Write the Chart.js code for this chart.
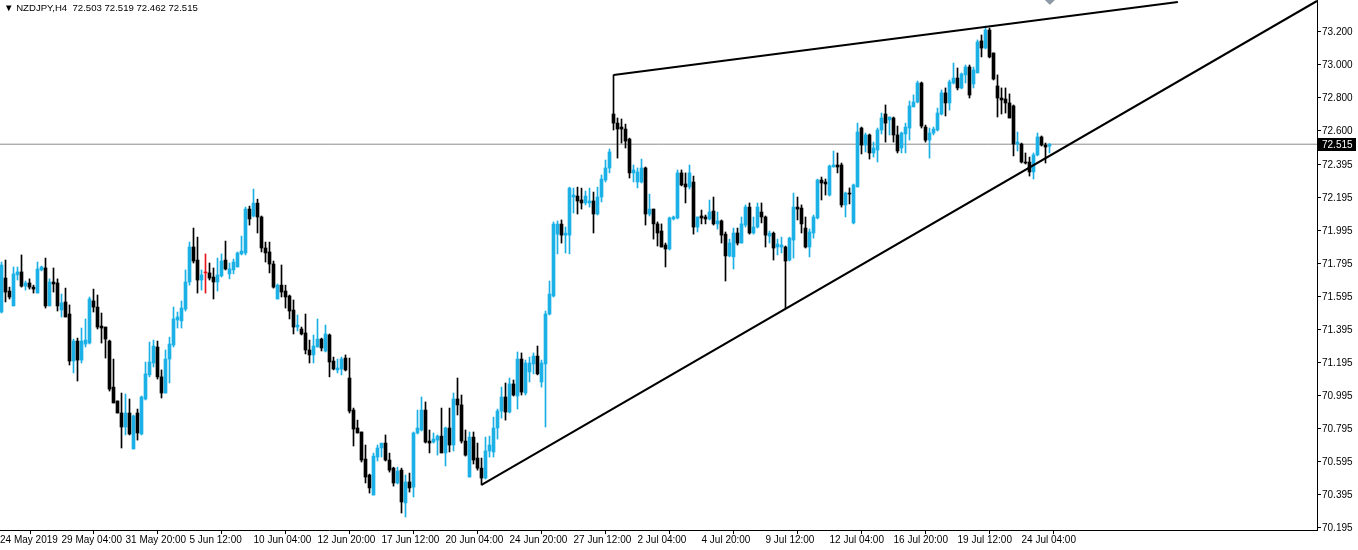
<!DOCTYPE html>
<html>
<head>
<meta charset="utf-8">
<title>NZDJPY,H4</title>
<script src="https://cdn.jsdelivr.net/npm/chart.js@4.4.0/dist/chart.umd.min.js"></script>
<style>
  html, body { margin: 0; padding: 0; background: #fff; }
  #wrap { position: relative; width: 1358px; height: 550px; }
  #title {
    position: absolute; left: 4px; top: 2px;
    font: 9.6px "Liberation Sans", Arial, sans-serif; color: #000; white-space: pre;
  }
</style>
</head>
<body>
<div id="wrap">
  <canvas id="chart"></canvas>
  <div id="title">▼ NZDJPY,H4  72.503 72.519 72.462 72.515</div>
</div>
<script>
// H4 candles, oldest first (24 May 2019 ... 24 Jul 2019)
let open = [
  71.498, 71.704, 71.625, 71.535, 71.723, 71.741, 71.655, 71.674, 71.649, 71.613,
  71.753, 71.765, 71.535, 71.680, 71.674, 71.510, 71.559, 71.486, 71.201, 71.322,
  71.207, 71.304, 71.310, 71.565, 71.528, 71.413, 71.407, 71.322, 71.043, 70.959,
  70.886, 70.801, 70.886, 70.668, 70.886, 70.759, 70.971, 71.117, 71.189, 71.286,
  71.105, 71.007, 71.213, 71.298, 71.450, 71.444, 71.516, 71.680, 71.892, 71.813,
  71.692, 71.735, 71.735, 71.710, 71.680, 71.717, 71.813, 71.729, 71.753, 71.771,
  71.850, 71.856, 72.122, 72.080, 72.158, 72.074, 71.886, 71.862, 71.789, 71.577,
  71.661, 71.625, 71.595, 71.510, 71.407, 71.395, 71.371, 71.268, 71.238, 71.286,
  71.334, 71.262, 71.359, 71.201, 71.147, 71.153, 71.219, 71.098, 70.904, 70.795,
  70.771, 70.607, 70.510, 70.389, 70.619, 70.674, 70.704, 70.601, 70.552, 70.462,
  70.540, 70.341, 70.468, 70.437, 70.765, 70.783, 70.904, 70.716, 70.710, 70.722,
  70.746, 70.644, 70.795, 70.692, 70.971, 70.935, 70.716, 70.498, 70.740, 70.613,
  70.552, 70.492, 70.656, 70.650, 70.795, 70.898, 70.983, 70.892, 71.062, 70.989,
  71.213, 71.007, 71.135, 71.183, 71.231, 71.074, 71.183, 71.486, 71.595, 71.970,
  72.031, 71.964, 71.964, 72.195, 72.201, 72.177, 72.159, 72.159, 72.171, 72.092,
  72.195, 72.298, 72.371, 72.698, 72.643, 72.619, 72.607, 72.546, 72.341, 72.286,
  72.286, 72.371, 72.092, 72.122, 72.032, 71.989, 71.904, 71.880, 72.062, 72.068,
  72.341, 72.274, 72.256, 72.286, 72.013, 72.080, 72.074, 72.062, 72.110, 72.032,
  72.050, 71.970, 71.838, 71.832, 71.977, 71.916, 72.025, 72.134, 71.977, 72.013,
  72.104, 72.074, 71.958, 71.976, 71.892, 71.892, 71.892, 71.813, 71.934, 72.134,
  72.128, 72.007, 71.892, 71.977, 72.068, 72.298, 72.286, 72.207, 72.377, 72.389,
  72.389, 72.147, 72.219, 72.038, 72.256, 72.613, 72.510, 72.571, 72.462, 72.480,
  72.601, 72.698, 72.662, 72.674, 72.571, 72.492, 72.577, 72.613, 72.741, 72.771,
  72.886, 72.619, 72.540, 72.583, 72.601, 72.698, 72.826, 72.765, 72.886, 72.916,
  72.856, 72.935, 72.983, 72.880, 72.947, 73.141, 73.098, 73.207, 73.068, 72.868,
  72.795, 72.789, 72.765, 72.747, 72.516, 72.516, 72.407, 72.407, 72.347, 72.450,
  72.559, 72.510, 72.503
];
let high = [
  71.801, 71.813, 71.649, 71.771, 71.771, 71.844, 71.686, 71.699, 71.661, 71.801,
  71.777, 71.825, 71.699, 71.765, 71.699, 71.607, 71.643, 71.541, 71.334, 71.340,
  71.401, 71.456, 71.589, 71.637, 71.601, 71.492, 71.407, 71.328, 71.213, 70.959,
  71.007, 71.001, 70.971, 70.874, 70.910, 70.989, 71.195, 71.316, 71.328, 71.322,
  71.147, 71.268, 71.346, 71.528, 71.498, 71.565, 71.753, 71.922, 72.007, 71.952,
  71.753, 71.850, 71.795, 71.765, 71.825, 71.850, 71.928, 71.795, 71.819, 71.862,
  71.958, 72.134, 72.140, 72.243, 72.182, 72.080, 71.922, 71.922, 71.807, 71.668,
  71.783, 71.661, 71.601, 71.571, 71.480, 71.407, 71.486, 71.328, 71.359, 71.456,
  71.340, 71.419, 71.365, 71.225, 71.213, 71.225, 71.238, 71.219, 70.916, 70.843,
  70.771, 70.692, 70.516, 70.643, 70.692, 70.698, 70.753, 70.643, 70.558, 70.558,
  70.552, 70.510, 70.522, 70.771, 70.904, 70.983, 70.953, 70.783, 70.765, 70.753,
  70.916, 70.801, 70.916, 71.007, 71.098, 70.995, 70.783, 70.771, 70.771, 70.704,
  70.613, 70.740, 70.746, 70.861, 70.910, 71.043, 71.068, 71.098, 71.086, 71.256,
  71.250, 71.207, 71.225, 71.250, 71.292, 71.207, 71.504, 71.686, 72.044, 72.050,
  72.056, 72.013, 72.255, 72.249, 72.255, 72.249, 72.231, 72.249, 72.225, 72.255,
  72.329, 72.419, 72.486, 72.935, 72.674, 72.668, 72.637, 72.552, 72.389, 72.371,
  72.425, 72.377, 72.213, 72.122, 72.044, 72.032, 71.916, 72.074, 72.080, 72.359,
  72.359, 72.341, 72.389, 72.322, 72.074, 72.116, 72.086, 72.177, 72.195, 72.104,
  72.056, 71.983, 71.940, 72.007, 72.007, 72.074, 72.147, 72.159, 72.074, 72.159,
  72.159, 72.080, 71.989, 71.983, 71.940, 71.952, 71.898, 71.952, 72.219, 72.195,
  72.147, 72.074, 72.001, 72.086, 72.304, 72.316, 72.304, 72.389, 72.474, 72.462,
  72.401, 72.225, 72.250, 72.274, 72.643, 72.619, 72.583, 72.577, 72.528, 72.613,
  72.704, 72.753, 72.680, 72.680, 72.625, 72.589, 72.643, 72.777, 72.814, 72.898,
  72.892, 72.631, 72.613, 72.619, 72.734, 72.844, 72.856, 72.904, 73.007, 72.977,
  72.947, 72.995, 72.995, 72.983, 73.147, 73.177, 73.231, 73.219, 73.068, 72.935,
  72.856, 72.856, 72.820, 72.753, 72.589, 72.522, 72.462, 72.437, 72.462, 72.583,
  72.565, 72.522, 72.519
];
let low = [
  71.492, 71.559, 71.577, 71.535, 71.692, 71.649, 71.631, 71.637, 71.613, 71.613,
  71.747, 71.522, 71.535, 71.619, 71.504, 71.468, 71.468, 71.177, 71.129, 71.080,
  71.189, 71.286, 71.304, 71.498, 71.395, 71.310, 71.219, 71.019, 70.947, 70.886,
  70.674, 70.753, 70.753, 70.668, 70.722, 70.753, 70.965, 71.105, 71.165, 71.092,
  70.977, 71.007, 71.068, 71.286, 71.401, 71.401, 71.504, 71.661, 71.795, 71.613,
  71.631, 71.613, 71.692, 71.577, 71.625, 71.710, 71.753, 71.699, 71.729, 71.771,
  71.844, 71.844, 72.025, 72.074, 71.977, 71.862, 71.801, 71.735, 71.643, 71.577,
  71.589, 71.522, 71.456, 71.365, 71.383, 71.359, 71.244, 71.189, 71.189, 71.286,
  71.262, 71.256, 71.105, 71.147, 71.129, 71.117, 71.141, 70.886, 70.686, 70.765,
  70.589, 70.462, 70.401, 70.389, 70.595, 70.619, 70.595, 70.528, 70.443, 70.456,
  70.280, 70.256, 70.407, 70.377, 70.759, 70.777, 70.704, 70.644, 70.704, 70.631,
  70.644, 70.565, 70.650, 70.656, 70.874, 70.704, 70.625, 70.498, 70.577, 70.540,
  70.450, 70.486, 70.619, 70.619, 70.728, 70.855, 70.843, 70.886, 70.989, 70.910,
  70.995, 70.995, 71.074, 71.123, 71.117, 71.043, 70.801, 71.480, 71.589, 71.850,
  71.916, 71.856, 71.850, 72.098, 72.092, 72.122, 72.147, 72.134, 71.977, 72.086,
  72.165, 72.286, 72.341, 72.601, 72.431, 72.522, 72.492, 72.310, 72.286, 72.250,
  72.280, 72.025, 72.080, 71.940, 71.898, 71.892, 71.771, 71.874, 72.056, 72.062,
  72.262, 72.159, 72.243, 71.970, 71.983, 72.032, 72.032, 72.056, 72.025, 72.001,
  71.916, 71.686, 71.832, 71.759, 71.904, 71.916, 72.013, 71.970, 71.970, 72.007,
  72.038, 71.892, 71.916, 71.813, 71.844, 71.856, 71.522, 71.807, 71.825, 72.056,
  71.977, 71.886, 71.832, 71.946, 72.062, 72.177, 72.207, 72.201, 72.377, 72.341,
  72.134, 72.074, 72.153, 72.032, 72.256, 72.456, 72.468, 72.425, 72.437, 72.407,
  72.577, 72.528, 72.571, 72.528, 72.462, 72.462, 72.462, 72.540, 72.741, 72.765,
  72.613, 72.528, 72.431, 72.571, 72.595, 72.692, 72.686, 72.722, 72.880, 72.844,
  72.850, 72.886, 72.795, 72.856, 72.947, 73.044, 73.092, 73.038, 72.904, 72.680,
  72.698, 72.704, 72.674, 72.444, 72.474, 72.401, 72.395, 72.322, 72.304, 72.444,
  72.504, 72.401, 72.462
];
let close = [
  71.783, 71.619, 71.589, 71.729, 71.741, 71.655, 71.674, 71.649, 71.637, 71.759,
  71.771, 71.535, 71.680, 71.668, 71.535, 71.553, 71.468, 71.201, 71.322, 71.207,
  71.322, 71.328, 71.577, 71.528, 71.407, 71.401, 71.334, 71.031, 70.947, 70.886,
  70.801, 70.886, 70.759, 70.868, 70.765, 70.983, 71.123, 71.195, 71.292, 71.105,
  71.007, 71.213, 71.304, 71.456, 71.468, 71.522, 71.680, 71.892, 71.807, 71.692,
  71.723, 71.735, 71.704, 71.680, 71.723, 71.807, 71.759, 71.759, 71.801, 71.856,
  71.868, 72.122, 72.062, 72.158, 72.074, 71.886, 71.856, 71.789, 71.649, 71.661,
  71.619, 71.589, 71.504, 71.407, 71.419, 71.365, 71.268, 71.238, 71.292, 71.334,
  71.280, 71.365, 71.195, 71.153, 71.159, 71.213, 71.147, 70.898, 70.789, 70.765,
  70.601, 70.498, 70.432, 70.625, 70.674, 70.704, 70.601, 70.540, 70.462, 70.534,
  70.347, 70.468, 70.432, 70.765, 70.795, 70.904, 70.710, 70.704, 70.728, 70.746,
  70.644, 70.795, 70.692, 70.971, 70.935, 70.716, 70.631, 70.740, 70.601, 70.552,
  70.492, 70.656, 70.692, 70.795, 70.898, 70.983, 70.892, 71.062, 70.995, 71.213,
  71.013, 71.189, 71.189, 71.231, 71.123, 71.189, 71.486, 71.607, 72.031, 72.031,
  71.964, 71.976, 72.249, 72.207, 72.171, 72.159, 72.201, 72.171, 72.092, 72.195,
  72.304, 72.371, 72.468, 72.643, 72.607, 72.607, 72.534, 72.341, 72.359, 72.347,
  72.371, 72.092, 72.122, 72.032, 71.977, 71.892, 71.880, 72.068, 72.074, 72.341,
  72.268, 72.256, 72.341, 72.013, 72.074, 72.068, 72.062, 72.104, 72.032, 72.050,
  71.964, 71.838, 71.916, 71.977, 71.916, 72.032, 72.134, 71.977, 72.013, 72.134,
  72.074, 71.964, 71.976, 71.886, 71.910, 71.904, 71.807, 71.946, 72.134, 72.122,
  72.032, 71.892, 71.983, 72.074, 72.298, 72.280, 72.274, 72.383, 72.389, 72.377,
  72.147, 72.219, 72.213, 72.268, 72.589, 72.510, 72.571, 72.462, 72.492, 72.601,
  72.674, 72.643, 72.680, 72.571, 72.474, 72.583, 72.619, 72.747, 72.771, 72.886,
  72.625, 72.540, 72.583, 72.607, 72.704, 72.826, 72.765, 72.892, 72.916, 72.856,
  72.941, 72.983, 72.813, 72.965, 73.135, 73.098, 73.207, 73.044, 72.910, 72.795,
  72.783, 72.765, 72.674, 72.516, 72.528, 72.407, 72.401, 72.347, 72.450, 72.559,
  72.510, 72.498, 72.515
];

// bar index of each time label, and the label text
let timeTickPos = [-0.375, 15, 31, 47, 63, 79, 95, 111, 127, 143, 159, 175, 191, 207, 223, 239, 255];
let timeTickLabels = [
  "24 May 2019", "29 May 04:00", "31 May 20:00", "5 Jun 12:00", "10 Jun 04:00",
  "12 Jun 20:00", "17 Jun 12:00", "20 Jun 04:00", "24 Jun 20:00", "27 Jun 12:00",
  "2 Jul 04:00", "4 Jul 20:00", "9 Jul 12:00", "12 Jul 04:00", "16 Jul 20:00",
  "19 Jul 12:00", "24 Jul 04:00"
];
let priceTicks = [73.2, 73.0, 72.8, 72.6, 72.395, 72.195, 71.995, 71.795, 71.595,
  71.395, 71.195, 70.995, 70.795, 70.595, 70.395, 70.195];

let lastPrice = 72.515;
// trendlines: [barIndex, price] end points
let resistanceLine = [[153, 72.935], [294.1, 73.377]];
let supportLine = [[120, 70.450], [328.875, 73.383]];
// chart object cut off by the top edge: [barIndex, price]
let topMarker = [[262.1, 73.405]];

// layout
const X_MIN = -0.375;
const X_MAX = X_MIN + 1317 / 4;
const Y_MIN = 70.177;
const Y_MAX = 73.389;

const UP = "#1bb1e7";
const DOWN = "#000000";
const DOJI = "#e8141c";

function candleColor(i) {
  if (close[i] > open[i]) return UP;
  if (close[i] < open[i]) return DOWN;
  return DOJI;
}

let colors = open.map((o, i) => candleColor(i));
let wickData = open.map((o, i) => ({ x: i, y: [low[i], high[i]] }));
let bodyData = open.map((o, i) => ({ x: i, y: [Math.min(o, close[i]), Math.max(o, close[i])] }));

function toPoints(line) {
  return line.map(p => ({ x: p[0], y: p[1] }));
}

function noPadding(s) {
  s.paddingTop = 0;
  s.paddingBottom = 0;
  s.paddingLeft = 0;
  s.paddingRight = 0;
}

const priceTag = {
  id: "priceTag",
  afterDraw(chart) {
    let ctx = chart.ctx;
    let yScale = chart.scales.y;
    let py = Math.round(yScale.getPixelForValue(lastPrice));
    ctx.save();
    ctx.fillStyle = "#000";
    ctx.fillRect(yScale.left, py - 6, 39, 13);
    ctx.fillStyle = "#fff";
    ctx.font = '10px "Liberation Sans", Arial, sans-serif';
    ctx.textBaseline = "middle";
    ctx.fillText(lastPrice.toFixed(3), yScale.left + 5, py + 1);
    ctx.restore();
  }
};

const axisFont = { family: '"Liberation Sans", Arial, sans-serif', size: 10 };

new Chart(document.getElementById("chart"), {
  type: "bar",
  data: {
    datasets: [
      {
        type: "line", label: "price", data: [{ x: X_MIN, y: lastPrice }, { x: X_MAX, y: lastPrice }],
        borderColor: "#8c8c8c", borderWidth: 1, pointRadius: 0, order: 5
      },
      {
        label: "wick", data: wickData, backgroundColor: colors, borderWidth: 0,
        barThickness: 1, grouped: false, order: 3
      },
      {
        label: "body", data: bodyData, backgroundColor: colors, borderWidth: 0,
        barThickness: 3, grouped: false, minBarLength: 1, order: 2
      },
      {
        type: "line", label: "resistance", data: toPoints(resistanceLine),
        borderColor: "#000", borderWidth: 2, pointRadius: 0, order: 1
      },
      {
        type: "line", label: "support", data: toPoints(supportLine),
        borderColor: "#000", borderWidth: 2, pointRadius: 0, order: 1
      },
      {
        type: "scatter", label: "marker", data: toPoints(topMarker),
        pointStyle: "rectRot", pointRadius: 7, backgroundColor: "#8d99a6",
        borderColor: "#7c8894", borderWidth: 1, order: 4
      }
    ]
  },
  options: {
    responsive: true,
    maintainAspectRatio: false,
    animation: false,
    layout: { padding: 0, autoPadding: false },
    plugins: { legend: { display: false }, tooltip: { enabled: false } },
    scales: {
      x: {
        type: "linear", min: X_MIN, max: X_MAX, offset: false,
        afterBuildTicks: s => { s.ticks = timeTickPos.map(v => ({ value: v })); },
        afterFit: s => { s.height = 20; noPadding(s); },
        ticks: {
          autoSkip: false, maxRotation: 0, align: "start", padding: 0,
          color: "#000", font: axisFont,
          callback: (v, idx) => timeTickLabels[idx]
        },
        grid: { display: true, drawOnChartArea: false, drawTicks: true, tickLength: 4, color: "#000" },
        border: { display: true, color: "#000" }
      },
      y: {
        position: "right", min: Y_MIN, max: Y_MAX,
        afterBuildTicks: s => { s.ticks = priceTicks.map(v => ({ value: v })); },
        afterFit: s => { s.width = 41; noPadding(s); },
        ticks: { padding: 1, labelOffset: 1, color: "#000", font: axisFont, callback: v => v.toFixed(3) },
        grid: { display: true, drawOnChartArea: false, drawTicks: true, tickLength: 4, color: "#000" },
        border: { display: true, color: "#000" }
      }
    }
  },
  plugins: [priceTag]
});
</script>
</body>
</html>
